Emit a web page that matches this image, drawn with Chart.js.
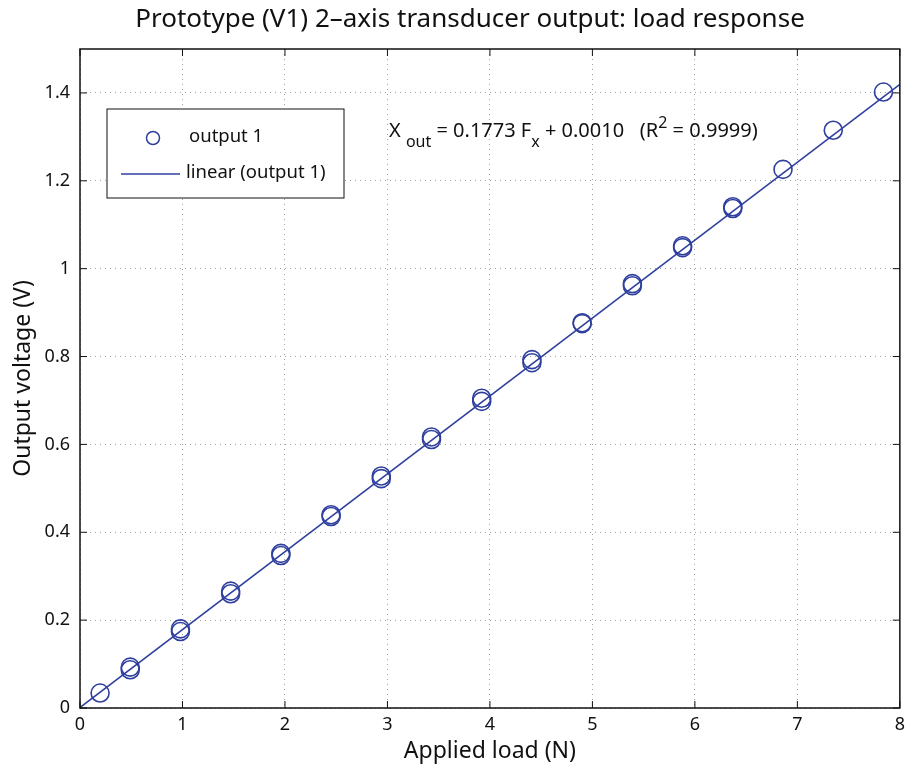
<!DOCTYPE html>
<html>
<head>
<meta charset="utf-8">
<script src="https://cdn.jsdelivr.net/npm/chart.js@4/dist/chart.umd.min.js"></script>
<style>
  html, body { margin: 0; padding: 0; background: #fff; }
  #chart { display: block; }
</style>
</head>
<body>
<canvas id="chart" width="911" height="769"></canvas>
<script>
// applied loads (N) and measured outputs (V), two passes per load
var loads       = [0.196, 0.49, 0.98, 1.47, 1.96, 2.45, 2.94, 3.43, 3.92, 4.41, 4.90, 5.39, 5.88, 6.37, 6.86, 7.35, 7.84];
var outputPass1 = [0.034, 0.087, 0.174, 0.260, 0.347, 0.436, 0.522, 0.611, 0.698, 0.786, 0.875, 0.961, 1.048, 1.137, 1.226, 1.315, 1.402];
var outputPass2 = [null,  0.093, 0.180, 0.266, 0.352, 0.440, 0.528, 0.617, 0.705, 0.793, 0.877, 0.966, 1.052, 1.141, null,  null,  null];

// linear fit end points
var fitX = [0, 8];
var fitY = [0.001, 1.4194];

var xTicks = [0, 1, 2, 3, 4, 5, 6, 7, 8];
var yTicks = [0, 0.2, 0.4, 0.6, 0.8, 1, 1.2, 1.4];

var blue = '#2f3f9e';
var font = "'Noto Sans', sans-serif";
var titleText = 'Prototype (V1) 2\u2013axis transducer output: load response';

function toPoints(xs, ys) {
    return xs.map(function (x, i) { return { x: x, y: ys[i] }; }).filter(function (p) { return p.y !== null; });
}

// title, box, inward tick marks, legend and equation
var decorations = {
    id: 'decorations',
    afterDraw: function (chart) {
        var ctx = chart.ctx;
        var a = chart.chartArea;
        var xs = chart.scales.x, ys = chart.scales.y;
        ctx.save();

        ctx.fillStyle = '#111';
        ctx.font = '26px ' + font;
        ctx.textAlign = 'center';
        ctx.textBaseline = 'middle';
        ctx.fillText(titleText, 470, 20);

        ctx.strokeStyle = '#111';
        ctx.lineWidth = 1.5;
        ctx.strokeRect(a.left, a.top, a.right - a.left, a.bottom - a.top);
        ctx.lineWidth = 1;
        ctx.beginPath();
        xTicks.forEach(function (v) {
            var px = xs.getPixelForValue(v);
            ctx.moveTo(px, a.bottom); ctx.lineTo(px, a.bottom - 7);
            ctx.moveTo(px, a.top); ctx.lineTo(px, a.top + 7);
        });
        yTicks.forEach(function (v) {
            var py = ys.getPixelForValue(v);
            ctx.moveTo(a.left, py); ctx.lineTo(a.left + 7, py);
            ctx.moveTo(a.right, py); ctx.lineTo(a.right - 7, py);
        });
        ctx.stroke();

        // legend
        var lx = 107, ly = 109, lw = 237, lh = 89;
        ctx.fillStyle = '#fff';
        ctx.fillRect(lx, ly, lw, lh);
        ctx.strokeStyle = '#111';
        ctx.lineWidth = 1;
        ctx.strokeRect(lx, ly, lw, lh);
        ctx.strokeStyle = blue;
        ctx.lineWidth = 1.5;
        ctx.beginPath();
        ctx.arc(153, 138, 6.5, 0, Math.PI * 2);
        ctx.stroke();
        ctx.beginPath();
        ctx.moveTo(121, 174); ctx.lineTo(180, 174);
        ctx.stroke();
        ctx.fillStyle = '#111';
        ctx.font = '18.5px ' + font;
        ctx.textBaseline = 'middle';
        ctx.textAlign = 'left';
        ctx.fillText('output 1', 189, 137);
        ctx.fillText('linear (output 1)', 186, 173);

        // fit equation
        var parts = [
            ['X ', 0, 20], ['out', 10, 16], [' = 0.1773 F', 0, 20], ['x', 10, 16],
            [' + 0.0010   (R', 0, 20], ['2', -9, 16], [' = 0.9999)', 0, 20]
        ];
        var tx = 389, base = 137;
        ctx.textBaseline = 'alphabetic';
        parts.forEach(function (p) {
            ctx.font = p[2] + 'px ' + font;
            ctx.fillText(p[0], tx, base + p[1]);
            tx += ctx.measureText(p[0]).width;
        });
        ctx.restore();
    }
};

var config = {
    type: 'scatter',
    data: {
        datasets: [
            {
                label: 'output 1',
                data: toPoints(loads, outputPass1),
                showLine: false,
                pointStyle: 'circle',
                pointRadius: 9,
                pointBorderWidth: 1.6,
                pointBorderColor: blue,
                pointBackgroundColor: 'rgba(0,0,0,0)'
            },
            {
                label: 'output 1 (pass 2)',
                data: toPoints(loads, outputPass2),
                showLine: false,
                pointRadius: 9,
                pointBorderWidth: 1.6,
                pointBorderColor: blue,
                pointBackgroundColor: 'rgba(0,0,0,0)'
            },
            {
                label: 'linear (output 1)',
                data: toPoints(fitX, fitY),
                showLine: true,
                borderColor: blue,
                borderWidth: 1.5,
                pointRadius: 0
            }
        ]
    },
    options: {
        responsive: false,
        animation: false,
        layout: { padding: { left: 0, right: 8, top: 49, bottom: 0 } },
        scales: {
            x: {
                type: 'linear',
                min: 0,
                max: 8,
                afterFit: function (s) { s.height = 61; },
                ticks: { stepSize: 1, padding: 6, color: '#111', font: { family: font, size: 18 } },
                grid: { color: '#a0a0a0', drawTicks: false },
                border: { display: false, dash: [1, 4] },
                title: { display: true, text: 'Applied load (N)', color: '#111', font: { family: font, size: 23 }, padding: { top: 0 } }
            },
            y: {
                type: 'linear',
                min: 0,
                max: 1.5,
                afterFit: function (s) { s.width = 80; },
                ticks: {
                    stepSize: 0.2,
                    includeBounds: false,
                    padding: 10,
                    color: '#111',
                    font: { family: font, size: 18 },
                    callback: function (v) { return Math.round(v * 10) / 10; }
                },
                grid: { color: '#a0a0a0', drawTicks: false },
                border: { display: false, dash: [1, 4] },
                title: { display: true, text: 'Output voltage (V)', color: '#111', font: { family: font, size: 23 }, padding: { top: 10, bottom: 0 } }
            }
        },
        plugins: {
            legend: { display: false },
            tooltip: { enabled: false },
            title: { display: false }
        }
    },
    plugins: [decorations]
};

new Chart(document.getElementById('chart').getContext('2d'), config);
</script>
</body>
</html>
